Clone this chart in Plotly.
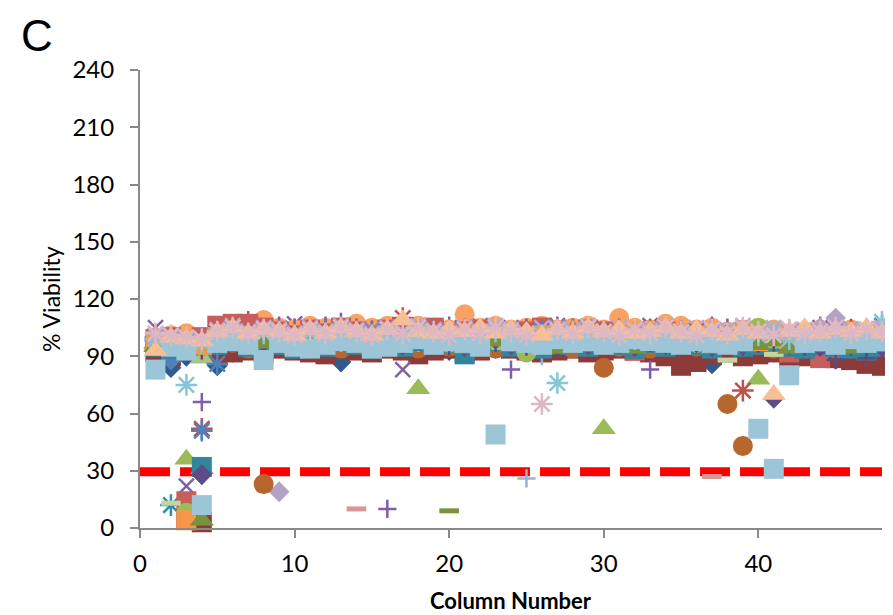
import plotly.graph_objects as go

columns = list(range(1, 49))
threshold_x = [0, 48]
threshold_y = [29.5, 29.5]

s01 = [88, 84, 90, 28, 85, 92, 94, 93, 95, 94, 96, 93, 87, 95, 93, 96, 94, 95, 97, 93, 96, 95, 94, 96,
       97, 94, 96, 95, 93, 96, 97, 95, 94, 93, 92, 94, 86, 93, 95, 94, 93, 92, 96, 95, 94, 93, 95, 94]
s02 = [92, 90, 5, 3, 91, 92, 93, 92, 94, 93, 92, 91, 94, 93, 92, 94, 93, 91, 93, 94, 92, 93, 95, 94,
       93, 92, 93, 94, 92, 93, 94, 93, 92, 90, 85, 87, 91, 92, 90, 91, 92, 89, 90, 91, 89, 88, 86, 85]
s03 = [96, 95, 36, 97, 98, 96, 99, 97, 98, 100, 97, 96, 99, 98, 97, 100, 98, 73, 96, 99, 98, 97, 100, 98,
       96, 98, 99, 97, 98, 52, 99, 97, 98, 100, 97, 96, 98, 97, 95, 78, 97, 99, 96, 98, 97, 96, 98, 97]
s04 = [105, 101, 22, 99, 103, 104, 106, 103, 105, 107, 104, 103, 106, 105, 104, 103, 83, 106, 104, 105, 103, 106, 104, 105,
       103, 104, 106, 105, 104, 103, 105, 104, 106, 103, 105, 104, 103, 102, 104, 103, 102, 104, 103, 105, 104, 103, 104, 102]
s05 = [98, 12, 96, 97, 100, 101, 103, 100, 102, 104, 100, 102, 101, 99, 103, 101, 104, 100, 102, 101, 99, 103, 101, 100,
       102, 104, 101, 99, 102, 100, 103, 101, 104, 102, 100, 103, 101, 99, 102, 100, 103, 101, 102, 100, 104, 102, 101, 106]
s06 = [100, 101, 102, 99, 104, 105, 106, 109, 105, 104, 106, 105, 104, 107, 105, 106, 104, 106, 105, 104, 112, 105, 106, 104,
       105, 106, 104, 105, 106, 104, 110, 105, 104, 107, 106, 104, 105, 103, 104, 103, 104, 102, 103, 104, 105, 104, 103, 104]
s07 = [99, 97, 95, 66, 103, 107, 109, 104, 106, 105, 104, 106, 108, 105, 104, 10, 106, 105, 104, 106, 105, 104, 103, 83,
       105, 104, 106, 105, 104, 103, 105, 104, 83, 105, 104, 103, 106, 105, 104, 103, 102, 103, 104, 106, 108, 104, 105, 103]
s08 = [97, 96, 95, 94, 98, 96, 99, 97, 98, 100, 97, 96, 99, 10, 98, 97, 99, 96, 98, 97, 100, 98, 96, 99,
       97, 98, 100, 96, 98, 97, 99, 98, 96, 97, 98, 96, 27, 99, 97, 98, 96, 98, 97, 99, 96, 98, 97, 96]
s09 = [98, 97, 96, 95, 100, 102, 99, 101, 19, 100, 103, 101, 99, 102, 100, 98, 101, 103, 100, 99, 102, 101, 100, 103,
       99, 101, 102, 100, 98, 101, 103, 100, 99, 102, 100, 101, 98, 100, 102, 99, 101, 100, 103, 105, 110, 103, 101, 100]
s10 = [99, 100, 14, 100, 106, 107, 107, 105, 103, 101, 104, 102, 105, 103, 101, 104, 102, 103, 105, 101, 103, 104, 102, 100,
       103, 105, 102, 101, 104, 103, 100, 93, 101, 103, 100, 102, 99, 101, 100, 98, 99, 92, 96, 89, 98, 96, 97, 95]
s11 = [97, 96, 95, 31, 99, 100, 98, 101, 100, 99, 102, 100, 98, 97, 101, 100, 99, 102, 98, 100, 101, 99, 102, 100,
       98, 101, 100, 104, 99, 98, 101, 102, 99, 100, 97, 101, 100, 98, 99, 101, 98, 100, 102, 99, 101, 98, 100, 99]
s12 = [96, 95, 94, 5, 97, 99, 96, 98, 97, 95, 98, 96, 97, 99, 96, 98, 97, 95, 98, 96, 97, 99, 95, 98,
       96, 97, 99, 98, 95, 97, 98, 96, 97, 99, 96, 98, 97, 95, 96, 94, 95, 94, 93, 94, 92, 93, 91, 92]
s13 = [100, 99, 98, 52, 102, 104, 101, 103, 102, 100, 104, 103, 101, 102, 100, 103, 110, 102, 100, 103, 104, 101, 102, 100,
       103, 101, 104, 102, 100, 103, 101, 102, 104, 101, 102, 103, 100, 101, 72, 102, 100, 101, 103, 100, 102, 104, 101, 100]
s14 = [95, 94, 93, 92, 96, 97, 94, 23, 96, 98, 95, 97, 94, 96, 98, 95, 97, 94, 96, 95, 98, 97, 94, 96,
       95, 97, 98, 94, 96, 84, 95, 97, 94, 96, 98, 95, 97, 65, 43, 96, 94, 97, 95, 96, 94, 97, 95, 96]
s15 = [97, 96, 95, 94, 98, 100, 97, 99, 98, 96, 99, 100, 97, 98, 96, 99, 100, 97, 98, 99, 96, 98, 100, 97,
       26, 90, 98, 99, 97, 100, 98, 96, 99, 97, 98, 100, 96, 98, 99, 97, 100, 98, 96, 99, 97, 98, 100, 97]
s16 = [94, 93, 92, 91, 95, 97, 94, 96, 95, 93, 96, 94, 97, 95, 93, 96, 94, 97, 95, 9, 96, 94, 97, 95,
       93, 96, 94, 95, 97, 96, 94, 95, 97, 93, 95, 96, 94, 95, 97, 93, 95, 94, 93, 95, 92, 93, 94, 92]
s17 = [96, 88, 97, 98, 99, 101, 98, 100, 99, 97, 100, 98, 101, 99, 97, 100, 98, 101, 99, 100, 97, 99, 101, 98,
       100, 99, 97, 101, 98, 100, 99, 97, 101, 98, 100, 99, 97, 100, 98, 101, 99, 97, 100, 98, 101, 99, 98, 100]
s18 = [95, 94, 93, 32, 96, 98, 95, 97, 96, 94, 97, 95, 98, 96, 94, 97, 95, 98, 96, 97, 91, 96, 98, 95,
       97, 94, 96, 98, 95, 97, 96, 94, 97, 95, 98, 96, 94, 97, 95, 96, 98, 95, 94, 96, 95, 94, 93, 95]
s19 = [95, 94, 93, 89, 98, 96, 99, 97, 98, 100, 96, 99, 97, 98, 100, 96, 99, 97, 98, 100, 97, 99, 96, 98,
       100, 97, 99, 98, 96, 99, 97, 100, 98, 96, 99, 97, 98, 100, 96, 99, 97, 98, 100, 96, 99, 97, 98, 96]
s20 = [101, 99, 98, 97, 103, 102, 100, 104, 101, 99, 102, 103, 100, 101, 104, 100, 102, 99, 101, 103, 100, 102, 104, 101,
       99, 103, 105, 101, 100, 102, 101, 104, 102, 100, 103, 101, 99, 102, 104, 100, 101, 103, 99, 102, 104, 100, 101, 103]
s21 = [99, 98, 97, 51, 86, 101, 99, 102, 100, 98, 101, 103, 99, 100, 102, 98, 101, 99, 103, 100, 98, 102, 101, 99,
       100, 103, 98, 101, 100, 102, 99, 101, 103, 100, 98, 101, 102, 99, 100, 98, 101, 103, 99, 100, 102, 98, 101, 100]
s22 = [97, 96, 8, 95, 99, 100, 98, 101, 99, 97, 100, 98, 101, 99, 97, 100, 98, 101, 99, 97, 100, 98, 99, 101,
       92, 99, 100, 98, 101, 97, 99, 100, 98, 101, 99, 97, 100, 98, 101, 105, 99, 97, 100, 98, 99, 101, 98, 100]
s23 = [96, 95, 94, 93, 97, 99, 96, 98, 97, 95, 98, 96, 99, 97, 95, 98, 96, 99, 97, 95, 98, 96, 97, 99,
       95, 98, 96, 97, 99, 95, 98, 96, 97, 99, 95, 98, 96, 97, 95, 98, 96, 97, 95, 96, 88, 95, 89, 94]
s24 = [95, 13, 94, 93, 96, 98, 95, 97, 96, 94, 97, 95, 98, 96, 94, 97, 95, 98, 96, 94, 97, 95, 98, 96,
       94, 97, 95, 96, 98, 94, 97, 95, 96, 98, 94, 97, 95, 88, 96, 94, 91, 95, 94, 96, 95, 94, 96, 95]
s25 = [96, 95, 94, 28, 97, 99, 96, 98, 97, 95, 98, 96, 99, 97, 95, 98, 96, 99, 97, 98, 95, 97, 99, 96,
       98, 97, 95, 99, 96, 98, 97, 95, 99, 96, 98, 97, 95, 98, 96, 97, 68, 96, 97, 95, 98, 96, 97, 95]
s26 = [98, 97, 4, 96, 100, 102, 99, 101, 100, 98, 101, 99, 102, 100, 98, 101, 99, 102, 100, 98, 101, 99, 102, 100,
       98, 101, 99, 100, 102, 98, 101, 99, 100, 102, 98, 101, 99, 100, 102, 98, 101, 99, 100, 98, 101, 100, 99, 101]
s27 = [95, 94, 93, 4, 96, 98, 95, 97, 96, 94, 97, 95, 98, 96, 94, 97, 95, 98, 96, 97, 94, 96, 98, 95,
       97, 96, 94, 98, 95, 97, 96, 94, 98, 95, 97, 96, 94, 97, 95, 96, 98, 94, 96, 95, 97, 94, 96, 95]
s28 = [99, 98, 75, 97, 101, 103, 100, 102, 101, 99, 102, 100, 103, 101, 99, 102, 100, 103, 101, 102, 99, 101, 103, 100,
       102, 101, 76, 103, 100, 102, 101, 99, 103, 100, 102, 101, 99, 102, 100, 101, 103, 99, 101, 100, 102, 101, 103, 108]
s29 = [101, 100, 99, 98, 104, 106, 103, 105, 104, 102, 105, 103, 106, 104, 102, 105, 103, 106, 104, 102, 105, 103, 106, 104,
       102, 105, 103, 104, 106, 102, 105, 103, 104, 106, 102, 105, 103, 104, 106, 102, 105, 103, 104, 102, 105, 104, 103, 105]
s30 = [83, 95, 93, 12, 97, 98, 96, 88, 97, 95, 94, 96, 98, 97, 94, 95, 97, 99, 96, 98, 97, 95, 49, 98,
       97, 96, 99, 97, 98, 96, 97, 99, 98, 97, 96, 98, 97, 96, 98, 52, 31, 80, 97, 98, 96, 99, 97, 98]
s31 = [93, 100, 99, 98, 103, 105, 102, 104, 103, 101, 104, 102, 105, 103, 101, 104, 109, 103, 102, 104, 103, 105, 102, 104,
       103, 101, 104, 102, 105, 103, 104, 102, 103, 105, 102, 104, 103, 101, 104, 102, 70, 103, 105, 102, 104, 103, 105, 102]
s32 = [102, 101, 100, 99, 103, 105, 102, 104, 103, 101, 104, 102, 105, 103, 101, 104, 102, 105, 103, 101, 104, 102, 105, 103,
       101, 65, 104, 102, 105, 103, 101, 104, 102, 105, 103, 101, 104, 102, 105, 103, 101, 104, 102, 103, 105, 102, 104, 103]

y_ticks = [0, 30, 60, 90, 120, 150, 180, 210, 240]
x_ticks = [0, 10, 20, 30, 40]

series = [s01, s02, s03, s04, s05, s06, s07, s08, s09, s10, s11, s12, s13, s14, s15, s16,
          s17, s18, s19, s20, s21, s22, s23, s24, s25, s26, s27, s28, s29, s30, s31, s32]
assert all(len(s) == 48 for s in series), [len(s) for s in series]

styles = [
    ("diamond", "#2F5B8F"), ("square", "#8E3A38"), ("triangle-up", "#9BBB59"), ("x-thin-open", "#8064A2"),
    ("asterisk-open", "#2E8FA6"), ("circle", "#F9A263"), ("cross-thin-open", "#7F5FA8"), ("line-ew-open", "#D99694"),
    ("diamond", "#B3A2C7"), ("square", "#C75E5B"), ("triangle-up", "#E07A2E"), ("x-thin-open", "#5F497A"),
    ("asterisk-open", "#C0504D"), ("circle", "#B5672E"), ("cross-thin-open", "#95B3D7"), ("line-ew-open", "#77933C"),
    ("diamond", "#4F81BD"), ("square", "#31859C"), ("triangle-up", "#A9C47F"), ("x-thin-open", "#9983B5"),
    ("asterisk-open", "#4F81BD"), ("circle", "#9BBB59"), ("cross-thin-open", "#604A7B"), ("line-ew-open", "#C3D69B"),
    ("diamond", "#5E4B87"), ("square", "#F79646"), ("triangle-up", "#77933C"), ("asterisk-open", "#86C5D8"),
    ("x-thin-open", "#B9A9D0"), ("square", "#9DC5D8"), ("triangle-up", "#F9BF94"), ("asterisk-open", "#DDB8C4"),
]
sizes = {"diamond": 16, "square": 20, "triangle-up": 21, "x-thin-open": 15, "asterisk-open": 18,
         "circle": 20, "cross-thin-open": 13, "line-ew-open": 14}
widths = {"x-thin-open": 2.5, "asterisk-open": 2.5, "cross-thin-open": 2.5, "line-ew-open": 5}

fig = go.Figure()
fig.add_trace(go.Scatter(x=threshold_x, y=threshold_y, mode="lines",
                         line=dict(color="#FF0000", width=9, dash="30px,10px"),
                         hoverinfo="skip", showlegend=False))
for vals, (sym, col) in zip(series, styles):
    fig.add_trace(go.Scatter(
        x=columns, y=vals, mode="markers", cliponaxis=False, showlegend=False,
        marker=dict(symbol=sym, size=sizes[sym], color=col,
                    line=dict(color=col, width=widths.get(sym, 0)))))

axis_common = dict(showline=True, linecolor="#898989", linewidth=2, ticks="outside",
                   ticklen=8, tickcolor="#898989", tickwidth=2, showgrid=False, zeroline=False,
                   tickfont=dict(family="Lato", size=24, color="#000000"))
# page body has an 8px margin, so the figure is offset by 8px on both axes
fig.update_layout(
    width=885, height=607, plot_bgcolor="white", paper_bgcolor="white",
    margin=dict(l=132, r=11, t=62, b=87),
    xaxis=dict(range=[0, 48], tickvals=x_ticks, ticklabelstandoff=5, **axis_common),
    yaxis=dict(range=[0, 240], tickvals=y_ticks, ticklabelstandoff=11, **axis_common),
    annotations=[
        dict(text="C", xref="paper", yref="paper", x=-0.163, y=1.134, xanchor="left", yanchor="top",
             showarrow=False, font=dict(family="Liberation Sans", size=44, color="#000000")),
        dict(text="% Viability", xref="paper", yref="paper", x=-0.12, y=0.5, textangle=-90,
             xanchor="center", yanchor="middle", showarrow=False,
             font=dict(family="Lato", size=23, color="#000000")),
        dict(text="<b>Column Number</b>", xref="paper", yref="paper", x=0.5, y=-0.158,
             xanchor="center", yanchor="middle", showarrow=False,
             font=dict(family="Lato", size=22, color="#000000")),
    ],
)
fig.write_html("out.html")
